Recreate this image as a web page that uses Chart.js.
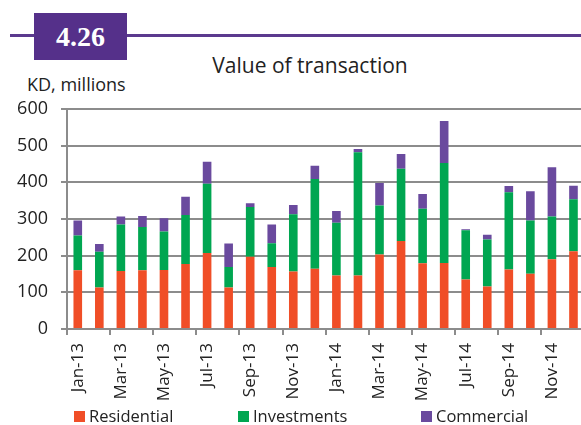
<!DOCTYPE html>
<html lang="en">
<head>
    <meta charset="UTF-8">
    <title>Value of transaction</title>
    <script src="https://cdn.jsdelivr.net/npm/chart.js"></script>
    <style>
        body { margin: 0; width: 581px; height: 425px; overflow: hidden; background: #fff; position: relative; font-family: "Open Sans", sans-serif; }
        #rule { position: absolute; left: 10px; top: 34px; width: 580px; height: 3px; background: #5b3a8e; }
        #badge { position: absolute; left: 34px; top: 13px; width: 93px; height: 47px; background: #55308a;
                 color: #fff; font: bold 28px "Liberation Serif", serif; text-align: center; line-height: 47px; }
        #title { position: absolute; left: 0; width: 620px; top: 55px; text-align: center; font-size: 21px; line-height: 1; color: #222; }
        #unit { position: absolute; left: 27px; top: 75px; font-size: 18px; line-height: 1; color: #222; }
        #myChart { position: absolute; left: 0; top: 0; }
    </style>
</head>
<body>
    <div id="rule"></div>
    <div id="badge">4.26</div>
    <div id="title">Value of transaction</div>
    <div id="unit">KD, millions</div>
    <canvas id="myChart" width="602" height="425"></canvas>
    <script>

// Месяцы
const months = ['Jan-13', 'Feb-13', 'Mar-13', 'Apr-13', 'May-13', 'Jun-13', 'Jul-13', 'Aug-13', 'Sep-13', 'Oct-13', 'Nov-13', 'Dec-13',
                'Jan-14', 'Feb-14', 'Mar-14', 'Apr-14', 'May-14', 'Jun-14', 'Jul-14', 'Aug-14', 'Sep-14', 'Oct-14', 'Nov-14', 'Dec-14'];

// Значения, KD млн
const residential = [160, 113, 158, 160, 161, 177, 207, 113, 197, 169, 157, 164,
                     146, 146, 203, 240, 179, 180, 135, 116, 162, 151, 190, 212];
const investments = [95, 98, 127, 118, 105, 134, 189, 56, 136, 65, 156, 245,
                     144, 336, 134, 197, 149, 273, 134, 128, 211, 145, 117, 142];
const commercial = [41, 21, 22, 30, 36, 50, 60, 64, 10, 51, 25, 36,
                    32, 9, 61, 40, 40, 114, 3, 13, 17, 80, 134, 37];

const yTicks = [0, 100, 200, 300, 400, 500, 600];

const gridColor = '#8c8c8c';
const textColor = '#222';

// Легенда внизу, рисуем сами
const bottomLegend = {
    id: 'bottomLegend',
    afterDraw(chart) {
        const ctx = chart.ctx;
        const xs = [74, 238, 421];
        ctx.save();
        ctx.font = '16.5px "Open Sans"';
        ctx.textBaseline = 'alphabetic';
        chart.data.datasets.forEach((ds, i) => {
            ctx.fillStyle = ds.backgroundColor;
            ctx.fillRect(xs[i], 411, 11, 11);
            ctx.fillStyle = textColor;
            ctx.fillText(ds.label, xs[i] + 15, 422);
        });
        ctx.restore();
    }
};

const data = {
    labels: months,
    datasets: [
        { label: 'Residential', data: residential, backgroundColor: '#f04e27' },
        { label: 'Investments', data: investments, backgroundColor: '#00a651' },
        { label: 'Commercial', data: commercial, backgroundColor: '#6a4a9e' }
    ]
};

const config = {
    type: 'bar',
    data: data,
    options: {
        responsive: false,
        animation: false,
        layout: { padding: { top: 109, right: 6, bottom: 24, left: 0 } },
        plugins: { legend: { display: false }, tooltip: { enabled: false } },
        datasets: { bar: { categoryPercentage: 1, barPercentage: 0.4, borderWidth: 0 } },
        scales: {
            x: {
                stacked: true,
                afterFit: s => { s.height = 72; },
                border: { color: gridColor, width: 2 },
                grid: {
                    offset: true,
                    drawOnChartArea: false,
                    tickLength: 6,
                    lineWidth: 2,
                    color: c => (c.index % 2 === 0 ? gridColor : 'rgba(0,0,0,0)')
                },
                ticks: {
                    autoSkip: false,
                    minRotation: 90,
                    maxRotation: 90,
                    padding: 8,
                    color: textColor,
                    font: { family: 'Open Sans', size: 17 },
                    callback: (v, i) => (i % 2 === 0 ? months[i] : '')
                }
            },
            y: {
                stacked: true,
                min: 0,
                max: 600,
                afterFit: s => { s.width = 67; },
                afterBuildTicks: s => { s.ticks = yTicks.map(v => ({ value: v })); },
                border: { color: gridColor, width: 2 },
                grid: { color: gridColor, lineWidth: 2, tickLength: 6 },
                ticks: {
                    color: textColor,
                    padding: 13,
                    font: { family: 'Open Sans', size: 18 }
                }
            }
        }
    },
    plugins: [bottomLegend]
};

const ctx = document.getElementById('myChart').getContext('2d');
const myChart = new Chart(ctx, config);

    </script>
</body>
</html>
